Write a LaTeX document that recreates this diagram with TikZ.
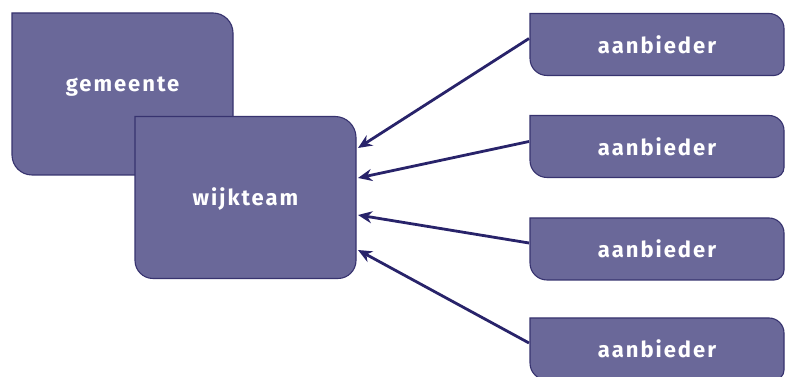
\documentclass[tikz,border=0pt]{standalone}
\usepackage{fontspec}
\setmainfont{Fira Sans}[LetterSpace=9]
\usetikzlibrary{arrows.meta,backgrounds}
\definecolor{boxfill}{HTML}{6A6899}
\definecolor{boxedge}{HTML}{37336F}
\definecolor{arrowcol}{HTML}{28236A}
\tikzset{
  box/.style={inner sep=0pt, outer sep=0pt, text=white, font=\bfseries\fontsize{22}{26}\selectfont},
  bigbox/.style={box, minimum width=221pt, minimum height=162pt},
  smallbox/.style={box, minimum width=254pt, minimum height=62pt},
  boxline/.style={fill=boxfill, draw=boxedge, line width=1.1pt},
  arr/.style={draw=arrowcol, line width=2.8pt, -{Stealth[length=14pt,width=12pt]}}
}
\newcommand{\shapebox}[4]{%
  \draw[boxline] (#1.north west) -- ([xshift=-#2]#1.north east)
    arc[start angle=90,end angle=0,radius=#2]
    -- ([yshift=#3]#1.south east)
    arc[start angle=0,end angle=-90,radius=#3]
    -- ([xshift=#4]#1.south west)
    arc[start angle=270,end angle=180,radius=#4] -- cycle;}
\begin{document}
\begin{tikzpicture}[x=1pt,y=1pt]
\useasboundingbox (0,0) rectangle (787,377);
\node[bigbox, text depth=20pt] (gem) at (122.5,283) {gemeente};
\node[bigbox, text height=21pt] (wij) at (245.5,179.5) {wijkteam};
\node[smallbox] (a1) at (657,332.5) {aanbieder};
\node[smallbox] (a2) at (657,230.5) {aanbieder};
\node[smallbox] (a3) at (657,128) {aanbieder};
\node[smallbox] (a4) at (657,28) {aanbieder};
\begin{pgfonlayer}{background}
  \fill[white] (0,0) rectangle (787,377);
  \shapebox{gem}{20pt}{0pt}{20pt}
  \shapebox{wij}{21pt}{18pt}{18pt}
  \shapebox{a1}{15pt}{10pt}{17pt}
  \shapebox{a2}{15pt}{10pt}{17pt}
  \shapebox{a3}{15pt}{10pt}{17pt}
  \shapebox{a4}{15pt}{10pt}{17pt}
\end{pgfonlayer}
\draw[arr] ([xshift=-1pt,yshift=6pt]a1.west) -- ([xshift=2pt,yshift=49.5pt]wij.east);
\draw[arr] ([xshift=-1pt,yshift=5pt]a2.west) -- ([xshift=2pt,yshift=19.5pt]wij.east);
\draw[arr] ([xshift=-1pt,yshift=6pt]a3.west) -- ([xshift=2pt,yshift=-17.5pt]wij.east);
\draw[arr] ([xshift=-1pt,yshift=6pt]a4.west) -- ([xshift=2pt,yshift=-52.5pt]wij.east);
\end{tikzpicture}
\end{document}
